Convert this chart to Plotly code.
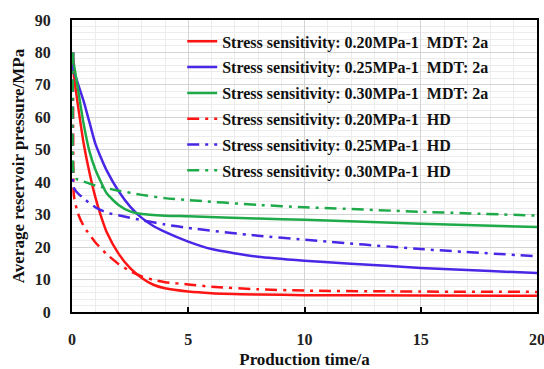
import plotly.graph_objects as go

# ---- data ----
t_red = [0, 0.25, 0.5, 0.75, 1, 1.25, 1.5, 2, 2.5, 3, 3.5, 4, 5, 6, 8, 10, 15, 20]
p_red = [77, 64, 52, 43, 35.5, 29.5, 24.5, 18, 13.5, 10.5, 8.4, 7.3, 6.3, 5.8, 5.4, 5.2, 5.1, 5.0]

t_blue = [0, 0.25, 0.5, 0.75, 1, 1.25, 1.5, 2, 2.5, 3, 3.5, 4, 5, 6, 8, 10, 12, 15, 18, 20]
p_blue = [76, 70.5, 65, 58.5, 52, 47.5, 43.5, 37.3, 32.5, 29, 26.5, 24.7, 21.7, 19.4, 17, 15.8, 14.9, 13.6, 12.6, 12.0]

t_green = [0, 0.25, 0.5, 0.75, 1, 1.25, 1.5, 2, 2.5, 3, 4, 5, 8, 10, 15, 20]
p_green = [80, 69, 58, 49.5, 44, 40, 36.5, 33, 31, 30.2, 29.7, 29.5, 28.8, 28.4, 27.2, 26.2]

t_red_hd = [0.05, 0.07, 0.1, 0.25, 0.5, 1, 1.5, 2, 2.5, 3, 3.5, 4, 5, 6, 8, 10, 15, 20]
p_red_hd = [80, 37, 35, 30.5, 26.5, 21.5, 17.8, 14.8, 12.6, 11, 9.9, 9.2, 8.5, 7.8, 7, 6.6, 6.3, 6.2]

t_blue_hd = [0.05, 0.07, 0.2, 0.5, 1, 1.5, 2, 3, 4, 5, 8, 10, 15, 20]
p_blue_hd = [80, 38.5, 37, 35, 32.3, 30.6, 29.8, 28.3, 27, 25.9, 23.5, 22.3, 19.4, 17.2]

t_green_hd = [0.05, 0.07, 0.2, 0.5, 1, 2, 3, 4, 5, 8, 10, 15, 20]
p_green_hd = [80, 43, 41, 40.2, 39, 37.4, 36.1, 35.1, 34.5, 33, 32.3, 30.9, 29.7]

names = [
    "Stress sensitivity: 0.20MPa-1\u00a0\u00a0MDT: 2a",
    "Stress sensitivity: 0.25MPa-1\u00a0\u00a0MDT: 2a",
    "Stress sensitivity: 0.30MPa-1\u00a0\u00a0MDT: 2a",
    "Stress sensitivity: 0.20MPa-1\u00a0\u00a0HD",
    "Stress sensitivity: 0.25MPa-1\u00a0\u00a0HD",
    "Stress sensitivity: 0.30MPa-1\u00a0\u00a0HD",
]
x_ticks = [0, 5, 10, 15, 20]
y_ticks = [0, 10, 20, 30, 40, 50, 60, 70, 80, 90]

RED = "#ff1414"
BLUE = "#4a26e6"
GREEN = "#1faa4a"
DASHDOT = "12px,6px,3px,6px"

series = [
    (t_red, p_red, RED, "solid"),
    (t_blue, p_blue, BLUE, "solid"),
    (t_green, p_green, GREEN, "solid"),
    (t_red_hd, p_red_hd, RED, DASHDOT),
    (t_blue_hd, p_blue_hd, BLUE, DASHDOT),
    (t_green_hd, p_green_hd, GREEN, DASHDOT),
]

fig = go.Figure()
for i, (t, p, c, d) in enumerate(series):
    fig.add_trace(go.Scatter(
        x=t, y=p, mode="lines", name=names[i], legendgroup=str(i),
        line=dict(color=c, width=2.5, dash=d, shape="spline", smoothing=0.6),
    ))

FONT = "Liberation Serif, Times New Roman, serif"
fig.update_layout(
    width=544, height=369,
    margin=dict(l=72, r=7, t=20, b=57),
    paper_bgcolor="white", plot_bgcolor="white",
    font=dict(family=FONT, size=15, color="#222222", weight=700),
    showlegend=True,
    legend=dict(
        x=0.237, y=0.985, xanchor="left", yanchor="top",
        bgcolor="rgba(255,255,255,0)", borderwidth=0,
        font=dict(family=FONT, size=16, color="#111111", weight=700),
        tracegroupgap=2, itemwidth=30,
    ),
    xaxis=dict(
        range=[0, 20], tickvals=x_ticks, ticktext=[str(v) for v in x_ticks],
        automargin=False, ticklabeloverflow="allow", ticklabelstandoff=12,
        showline=True, linecolor="black", linewidth=2, mirror=True,
        ticks="inside", ticklen=5, tickwidth=2, tickcolor="black",
        showgrid=True, gridcolor="#d4d4d4", gridwidth=1,
        minor=dict(dtick=1, showgrid=True, gridcolor="#ececec", gridwidth=1),
        zeroline=False,
        title=dict(text="Production time/a", font=dict(family=FONT, size=17, color="#111111", weight=700), standoff=7),
        tickfont=dict(family=FONT, size=16, color="#222222", weight=700),
    ),
    yaxis=dict(
        range=[0, 90], tickvals=y_ticks, ticktext=[str(v) for v in y_ticks],
        automargin=False, ticklabelstandoff=16,
        showline=True, linecolor="black", linewidth=2, mirror=True,
        ticks="", showgrid=True, gridcolor="#d4d4d4", gridwidth=1,
        minor=dict(dtick=2, showgrid=True, gridcolor="#ececec", gridwidth=1),
        zeroline=False,
        title=dict(text="Average reservoir pressure/MPa", font=dict(family=FONT, size=17, color="#111111", weight=700), standoff=6),
        tickfont=dict(family=FONT, size=16, color="#222222", weight=700),
    ),
)

fig.write_html("out.html")
